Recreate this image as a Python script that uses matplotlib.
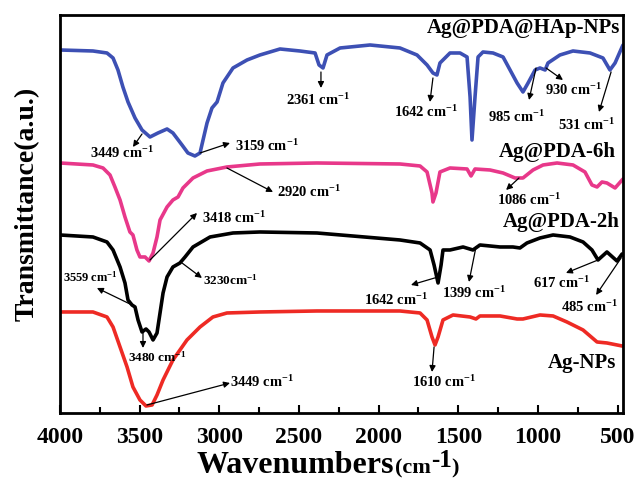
import numpy as np
import matplotlib
matplotlib.use("Agg")
import matplotlib.pyplot as plt

plt.rcParams['font.family'] = ['Liberation Serif', 'DejaVu Serif']
plt.rcParams['font.weight'] = 'bold'
plt.rcParams['mathtext.fontset'] = 'custom'
plt.rcParams['mathtext.rm'] = 'Liberation Serif:bold'
plt.rcParams['mathtext.bf'] = 'Liberation Serif:bold'
plt.rcParams['mathtext.it'] = 'Liberation Serif:bold'
plt.rcParams['mathtext.default'] = 'regular'

# FTIR spectra (wavenumber, offset transmittance a.u.)
wn_hap = [4000, 3793, 3705, 3667, 3636, 3605, 3573, 3529, 3485, 3435, 3385, 3328, 3291, 3234,
          3197, 3153, 3121, 3102, 3077, 3046, 3014, 2977, 2914, 2826, 2745, 2619, 2494, 2399,
          2374, 2349, 2324, 2242, 2054, 1866, 1759, 1696, 1659, 1634, 1615, 1552, 1489, 1445,
          1426, 1414, 1395, 1376, 1345, 1282, 1219, 1175, 1131, 1094, 1062, 1018, 987, 955,
          937, 862, 780, 673, 592, 548, 516, 472, 466]
t_hap = [363, 362, 360, 355, 343, 326, 311, 295, 283, 276, 280, 284, 280, 268,
         260, 257, 260, 273, 290, 305, 311, 330, 345, 353, 358, 364, 362, 360,
         348, 345, 358, 365, 368, 365, 358, 348, 340, 338, 350, 360, 360, 356,
         316, 273, 316, 356, 361, 360, 356, 343, 330, 321, 330, 343, 345, 343,
         350, 358, 362, 360, 355, 343, 350, 366, 368]

wn_6h = [4000, 3793, 3730, 3686, 3655, 3623, 3592, 3561, 3542, 3517, 3498, 3466, 3441, 3416,
         3391, 3372, 3328, 3291, 3259, 3228, 3165, 3077, 2952, 2745, 2387, 1866, 1740, 1696,
         1665, 1659, 1640, 1615, 1552, 1445, 1420, 1395, 1301, 1219, 1144, 1094, 1031, 968,
         880, 780, 705, 661, 629, 598, 567, 516, 472, 466]
t_6h = [250, 248, 245, 238, 226, 213, 196, 181, 178, 163, 156, 156, 152, 160,
        176, 193, 206, 213, 216, 225, 235, 242, 246, 249, 250, 249, 247, 241,
        220, 211, 220, 241, 245, 244, 237, 244, 243, 240, 235, 235, 243, 248,
        250, 248, 241, 228, 226, 231, 230, 225, 233, 234]

wn_2h = [4000, 3793, 3705, 3667, 3623, 3592, 3573, 3548, 3529, 3510, 3485, 3460, 3441, 3416,
         3391, 3372, 3353, 3328, 3291, 3247, 3215, 3165, 3058, 2914, 2745, 2387, 1866, 1740,
         1677, 1652, 1627, 1608, 1596, 1552, 1470, 1408, 1364, 1238, 1157, 1113, 1069, 987,
         905, 799, 717, 661, 623, 567, 504, 472, 466]
t_2h = [178, 176, 171, 163, 146, 130, 113, 108, 106, 93, 81, 84, 81, 73,
        80, 100, 120, 136, 146, 150, 156, 166, 176, 180, 181, 180, 173, 170,
        163, 148, 130, 148, 163, 163, 166, 163, 168, 166, 166, 165, 170, 175,
        178, 176, 171, 163, 153, 161, 152, 159, 158]

wn_ag = [4000, 3793, 3705, 3667, 3623, 3579, 3542, 3498, 3460, 3422, 3391, 3353, 3291, 3203,
         3121, 3040, 2952, 2745, 2387, 1866, 1740, 1696, 1665, 1646, 1627, 1596, 1533, 1426,
         1389, 1364, 1238, 1131, 1094, 987, 905, 818, 717, 629, 567, 472, 466]
t_ag = [101, 101, 96, 86, 66, 46, 26, 13, 7, 8, 18, 33, 53, 73,
        86, 96, 100, 101, 102, 102, 100, 93, 76, 68, 76, 93, 98, 96,
        94, 97, 97, 94, 94, 98, 97, 91, 83, 71, 70, 67, 67]

series = [
    (wn_hap, t_hap, '#3d50b4', 'Ag@PDA@HAp-NPs', (485, 385)),
    (wn_6h, t_6h, '#e8388a', 'Ag@PDA-6h', (510, 261)),
    (wn_2h, t_2h, '#000000', 'Ag@PDA-2h', (485, 191)),
    (wn_ag, t_ag, '#ee2a24', 'Ag-NPs', (510, 50)),
]

# peak labels: text, text pos, arrow tail (on curve), arrow head, ha, size
peaks = [
    ('3449', (3611, 260), (3485, 279), (3542, 266), 'center', 10.5),
    ('3159', (2902, 267), (3121, 260), (2933, 270), 'left', 10.5),
    ('2361', (2381, 313), (2362, 341), (2362, 325), 'center', 10.5),
    ('1642', (1703, 301), (1659, 335), (1678, 311), 'center', 10.5),
    ('985', (1138, 296), (1012, 345), (1056, 313), 'center', 10.5),
    ('930', (780, 323), (949, 345), (843, 333), 'center', 10.5),
    ('531', (698, 288), (541, 341), (617, 301), 'center', 10.5),
    ('2920', (2640, 221), (2952, 245), (2663, 221), 'left', 10.5),
    ('3418', (3109, 195), (3435, 153), (3140, 200), 'left', 10.5),
    ('1086', (1056, 213), (1119, 235), (1200, 223), 'center', 10.5),
    ('3559', (3812, 136), (3548, 108), (3768, 125), 'center', 9),
    ('3230', (3102, 133), (3234, 150), (3109, 135), 'left', 9.5),
    ('3480', (3391, 56), (3479, 83), (3479, 65), 'center', 9.5),
    ('3449', (2933, 31), (3454, 8), (2933, 30), 'left', 10.5),
    ('1642', (1891, 113), (1627, 136), (1797, 128), 'center', 10.5),
    ('1399', (1401, 120), (1389, 166), (1433, 131), 'center', 10.5),
    ('617', (855, 130), (623, 153), (824, 140), 'center', 10.5),
    ('485', (679, 106), (478, 155), (635, 118), 'center', 10.5),
    ('1610', (1590, 31), (1652, 66), (1665, 41), 'center', 10.5),
]

fig = plt.figure(figsize=(6.36, 4.82), dpi=100)
ax = fig.add_axes([0.0943, 0.1432, 0.8853, 0.8257])

for wn, t, c, name, lab in series:
    ax.plot(wn, t, color=c, lw=2.6, solid_joinstyle='round', solid_capstyle='round')
    ax.text(lab[0], lab[1], name, ha='right', va='center', fontsize=15, fontweight='bold')

for num, tp, tail, head, ha, fs in peaks:
    sep = '' if num == '3230' else ' '
    ax.text(tp[0], tp[1], num + sep + r'cm$^{-1}$', ha=ha, va='center', fontsize=fs,
            fontweight='bold')
    ax.annotate('', xy=head, xytext=tail,
                arrowprops=dict(arrowstyle='-|>', color='black', lw=0.9,
                                mutation_scale=9, shrinkA=0, shrinkB=0))

ax.set_xlim(4000, 466)
ax.set_ylim(0, 398)
ax.set_yticks([])
ax.set_xticks([4000, 3500, 3000, 2500, 2000, 1500, 1000, 500])
ax.set_xticks(np.arange(3750, 466, -500), minor=True)
ax.tick_params(axis='x', which='major', direction='in', length=6, width=1.5,
               labelsize=17, pad=10)
ax.tick_params(axis='x', which='minor', direction='in', length=4, width=1.5)
for lbl in ax.get_xticklabels():
    lbl.set_fontweight('bold')
for sp in ax.spines.values():
    sp.set_linewidth(2)

# y label
fig.text(27 / 636, 1 - 204 / 482, 'Transmittance(a.u.)', rotation=90, ha='center',
         va='center', fontsize=20, fontweight='bold')

# x label built from pieces: big "Wavenumbers", small "(cm", big superscript "-1"
renderer = fig.canvas.get_renderer()
base_y = 1 - 473 / 482
fig.text(394 / 636, base_y, 'Wavenumbers', ha='right', va='baseline',
         fontsize=23, fontweight='bold')
t2 = fig.text(395 / 636, base_y, '(cm', ha='left', va='baseline', fontsize=16,
              fontweight='bold')
x_px = t2.get_window_extent(renderer).x1
t3 = fig.text(x_px / 636, 1 - 467 / 482, '-1', ha='left', va='baseline', fontsize=18,
              fontweight='bold')
x_px = t3.get_window_extent(renderer).x1
fig.text(x_px / 636, base_y, ')', ha='left', va='baseline', fontsize=16,
         fontweight='bold')

fig.savefig('out.png', dpi=100)
